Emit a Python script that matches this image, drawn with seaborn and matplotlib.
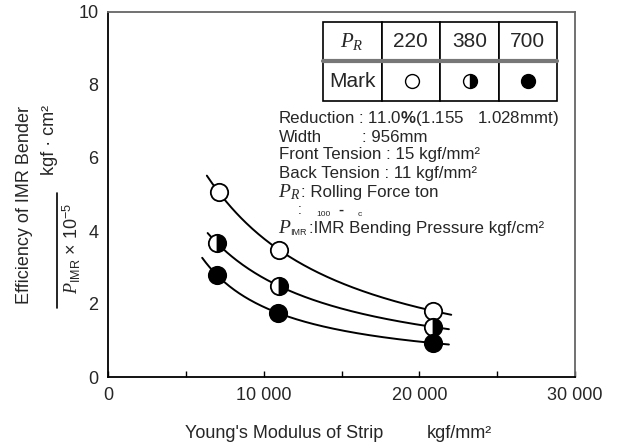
import numpy as np
import pandas as pd
import matplotlib
matplotlib.use("Agg")
import matplotlib.pyplot as plt
import seaborn as sns
from matplotlib.ticker import MultipleLocator, FuncFormatter

# Rolling force groups (P_R, ton)
forces = ["220", "380", "700"]

# Young's modulus of strip (kgf/mm2) for each measured point
modulus_220 = [7100, 11000, 20900]
modulus_380 = [7000, 11000, 20900]
modulus_700 = [7000, 10950, 20900]

# Efficiency of IMR bender (x 10^-5)
eff_220 = [5.07, 3.48, 1.81]
eff_380 = [3.67, 2.49, 1.37]
eff_700 = [2.79, 1.75, 0.93]

# span of the fitted curves
curve_span_220 = [6350, 22050]
curve_span_380 = [6400, 21900]
curve_span_700 = [6050, 21900]

x_ticks = [0, 10000, 20000, 30000]
y_ticks = [0, 2, 4, 6, 8, 10]

sns.set_style("white")
plt.rcParams["font.family"] = ["Liberation Sans", "DejaVu Sans"]
plt.rcParams["mathtext.fontset"] = "custom"
plt.rcParams["mathtext.rm"] = "Liberation Sans"
plt.rcParams["mathtext.sf"] = "Liberation Sans"
plt.rcParams["mathtext.it"] = "Liberation Serif:italic"
plt.rcParams["mathtext.bf"] = "Liberation Sans:bold"

W, H = 619, 448


def fp(x, y):
    # pixel position -> figure fraction
    return x / W, 1 - y / H


fig = plt.figure(figsize=(W / 100, H / 100), dpi=100)
ax = fig.add_axes([108 / W, 71 / H, 467 / W, 365 / H])

# smooth curves: quadratic in 1/x through the three points
rows = []
for name, xs, ys, span in [("220", modulus_220, eff_220, curve_span_220),
                           ("380", modulus_380, eff_380, curve_span_380),
                           ("700", modulus_700, eff_700, curve_span_700)]:
    coef = np.polyfit(1.0 / np.array(xs, float), ys, 2)
    xx = np.linspace(span[0], span[1], 200)
    for xv, yv in zip(xx, np.polyval(coef, 1.0 / xx)):
        rows.append({"modulus": xv, "eff": yv, "force": name})
curves = pd.DataFrame(rows)

sns.lineplot(data=curves, x="modulus", y="eff", hue="force", units="force",
             estimator=None, palette={f: "black" for f in forces},
             linewidth=1.4, legend=False, ax=ax, zorder=2)

mk = dict(linestyle="none", marker="o", markersize=12.5, markeredgecolor="black",
          markeredgewidth=1.3, zorder=3)
ax.plot(modulus_220, eff_220, markerfacecolor="white", **mk)
ax.plot(modulus_380, eff_380, fillstyle="right", markerfacecolor="black",
        markerfacecoloralt="white", **mk)
ax.plot(modulus_700, eff_700, markerfacecolor="black", **mk)

ax.set_xlim(0, 30000)
ax.set_ylim(0, 10)
ax.xaxis.set_major_locator(MultipleLocator(10000))
ax.xaxis.set_minor_locator(MultipleLocator(5000))
ax.xaxis.set_major_formatter(FuncFormatter(lambda v, p: f"{int(v):,}".replace(",", " ")))
ax.set_yticks(y_ticks)
ax.tick_params(axis="x", which="both", direction="in", length=4, width=1,
               color="black", labelsize=13, pad=7, bottom=True)
ax.tick_params(axis="y", length=0, labelsize=13, pad=7)
ax.set_xlabel("")
ax.set_ylabel("")
for s in ["left", "bottom"]:
    ax.spines[s].set_color("black")
    ax.spines[s].set_linewidth(1.3)
for s in ["top", "right"]:
    ax.spines[s].set_color("#666666")
    ax.spines[s].set_linewidth(1.3)

# legend table
tb = ax.table(cellText=[["$P_R$"] + forces, ["Mark", "", "", ""]],
              cellLoc="center", bbox=[0.4604, 0.7562, 0.5011, 0.2164])
tb.auto_set_font_size(False)
for (r, c), cell in tb.get_celld().items():
    cell.set_linewidth(1.2)
    cell.set_edgecolor("black")
    cell.get_text().set_fontsize(15)
ax.plot([0.4604, 0.9615], [0.8644, 0.8644], transform=ax.transAxes,
        color="#777777", linewidth=3, zorder=5, clip_on=False)
tk = dict(linestyle="none", marker="o", markersize=10, markeredgecolor="black",
          markeredgewidth=1.0, transform=ax.transAxes, zorder=6, clip_on=False)
ax.plot([0.650], [0.8096], markerfacecolor="white", **tk)
ax.plot([0.775], [0.8096], fillstyle="right", markerfacecolor="black",
        markerfacecoloralt="white", **tk)
ax.plot([0.899], [0.8096], markerfacecolor="black", **tk)

# condition notes
fs = 12.2
fig.text(*fp(279, 118), "Reduction", fontsize=fs, va="center")
fig.text(*fp(358, 118), r": 11.0$\mathbf{\%}$(1.155   1.028mmt)", fontsize=fs, va="center")
fig.text(*fp(279, 137), "Width", fontsize=fs, va="center")
fig.text(*fp(362, 137), ": 956mm", fontsize=fs, va="center")
fig.text(*fp(279, 155), "Front Tension : 15 kgf/mm²", fontsize=fs, va="center")
fig.text(*fp(279, 173), "Back Tension : 11 kgf/mm²", fontsize=fs, va="center")
fig.text(*fp(278, 192), "$P_R$", fontsize=14, va="center")
fig.text(*fp(301, 192), ": Rolling Force ton", fontsize=fs, va="center")
fig.text(*fp(298, 210), ":", fontsize=10, va="center")
fig.text(*fp(316, 214), "100", fontsize=6, va="center")
fig.text(*fp(338, 210), "-", fontsize=11, fontweight="bold", va="center")
fig.text(*fp(358, 214), "c", fontsize=6, va="center")
fig.text(*fp(278, 228), "$P$", fontsize=14, va="center")
fig.text(*fp(290, 232), "IMR", fontsize=6.5, va="center")
fig.text(*fp(309, 228), ":IMR Bending Pressure kgf/cm²", fontsize=fs, va="center")

# axis titles
fig.text(*fp(185, 433), "Young's Modulus of Strip", fontsize=13, va="center")
fig.text(*fp(427, 433), "kgf/mm²", fontsize=13, va="center")
fig.text(*fp(25, 205), "Efficiency of IMR Bender", fontsize=13, rotation=90,
         va="center", ha="center")
fig.text(*fp(50, 140), "kgf · cm²", fontsize=13, rotation=90, va="center", ha="center")
fig.add_artist(plt.Line2D([57 / W, 57 / W], [1 - 193 / H, 1 - 308 / H],
                          color="black", linewidth=1.2))
fig.text(*fp(72, 248), r"$P_{\mathrm{IMR}}$ × 10$^{-5}$", fontsize=13, rotation=90,
         va="center", ha="center")

fig.savefig("out.png", dpi=100)
